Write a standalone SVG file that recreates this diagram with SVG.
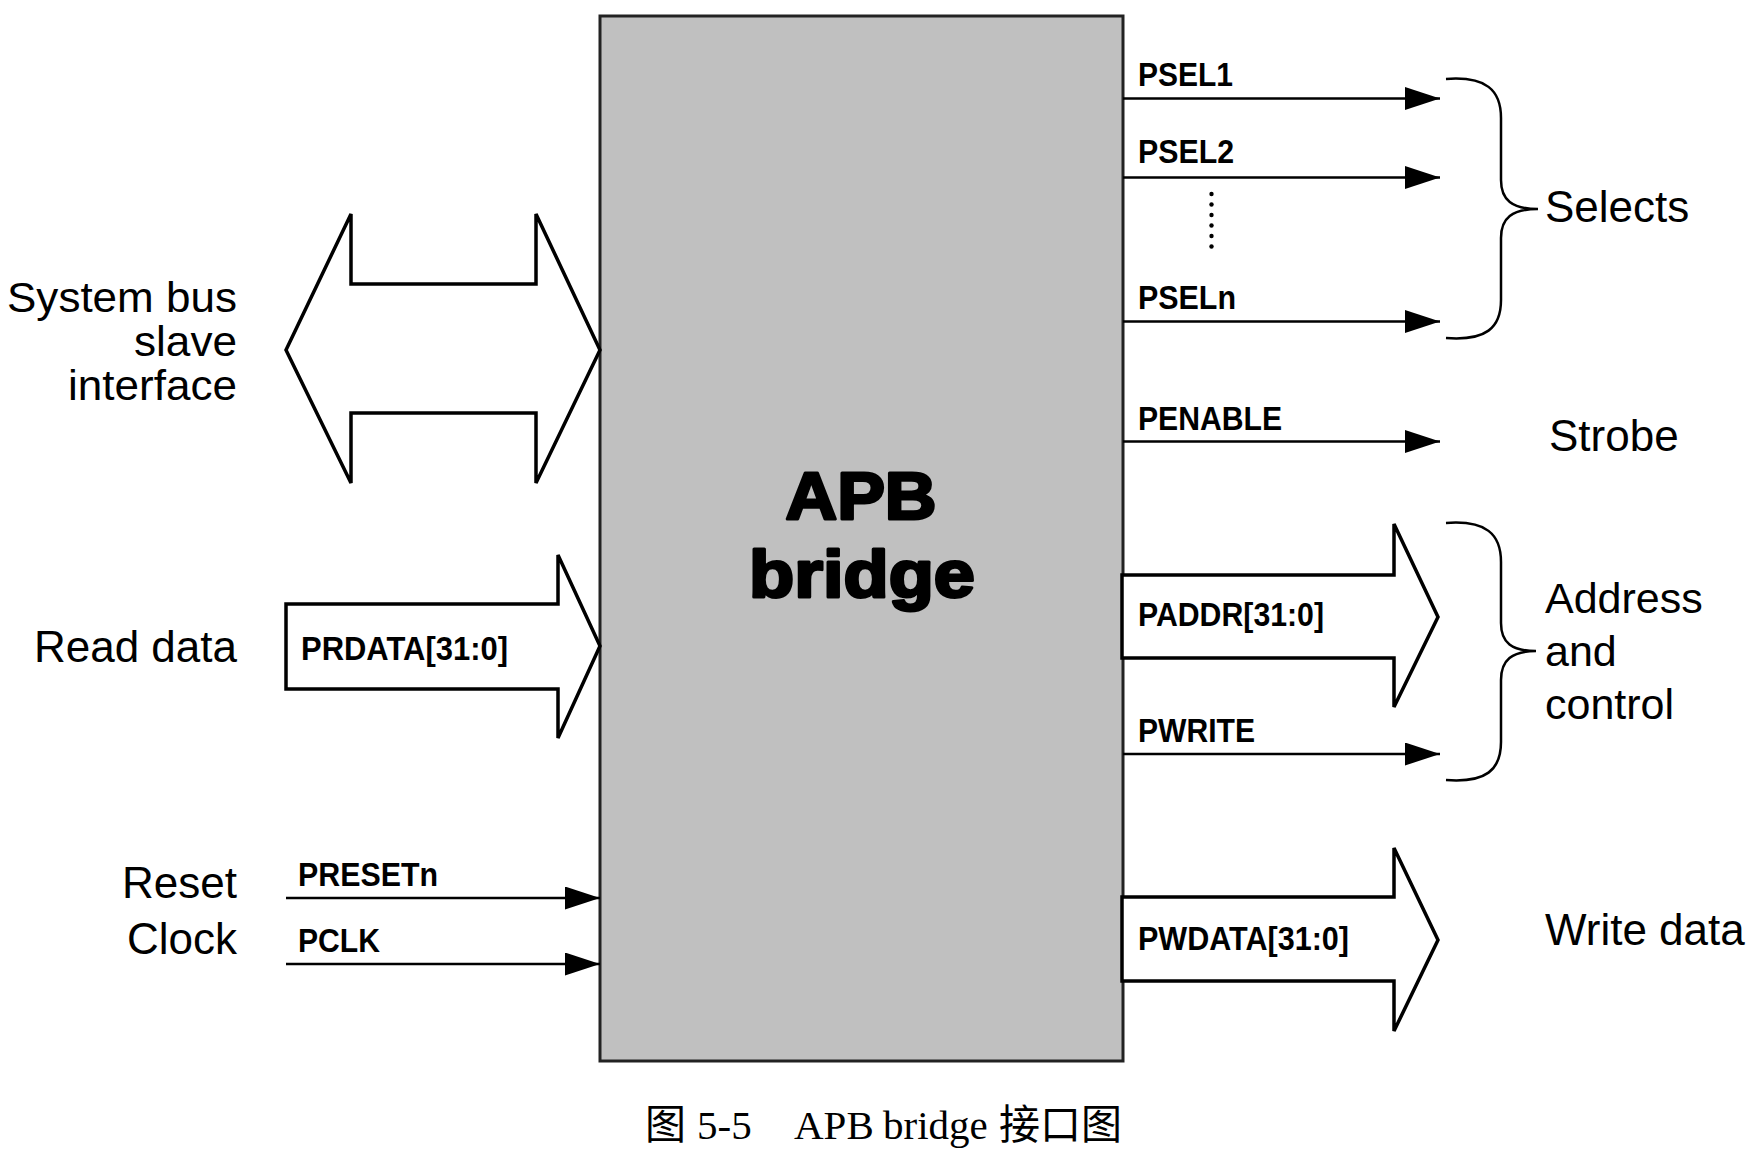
<svg xmlns="http://www.w3.org/2000/svg" width="1761" height="1161" viewBox="0 0 1761 1161">
  <style>
    .lbl { font-family: "Liberation Sans", Arial, sans-serif; font-size: 44px; fill: #000; }
    .lbs { font-family: "Liberation Sans", Arial, sans-serif; font-size: 43px; fill: #000; }
    .sig { font-family: "Liberation Sans", Arial, sans-serif; font-size: 34px; font-weight: bold; fill: #000; }
    .title { font-family: "Liberation Sans", Arial, sans-serif; font-size: 67px; font-weight: bold; fill: #000; stroke: #000; stroke-width: 3; stroke-linejoin: round; }
    .cap { font-family: "Liberation Serif", "Times New Roman", "Noto Sans CJK SC", serif; font-size: 41px; fill: #000; }
    .wire { stroke: #000; stroke-width: 2.5; fill: none; }
    .bus { stroke: #000; stroke-width: 3.5; fill: #fff; stroke-linejoin: miter; }
    .brace { stroke: #000; stroke-width: 2.5; fill: none; }
  </style>
  <defs>
    <marker id="ah" markerUnits="userSpaceOnUse" markerWidth="36" markerHeight="24" refX="35" refY="11.5" orient="auto">
      <path d="M0,0 L35,11.5 L0,23 z" fill="#000"/>
    </marker>
  </defs>

  <g id="apb-bridge">
    <rect x="600" y="16" width="523" height="1045" fill="#c0c0c0" stroke="#222" stroke-width="3"/>
    <text class="title" x="861" y="519" text-anchor="middle" textLength="151" lengthAdjust="spacingAndGlyphs">APB</text>
    <text class="title" x="862" y="597" text-anchor="middle" textLength="226" lengthAdjust="spacingAndGlyphs">bridge</text>
  </g>

  <g id="system-bus">
    <polygon class="bus" points="286,350 351,214 351,284 536,284 536,214 600,350 536,483 536,413 351,413 351,483"/>
    <text class="lbs" x="237" y="312" text-anchor="end" textLength="230" lengthAdjust="spacingAndGlyphs">System bus</text>
    <text class="lbs" x="237" y="356" text-anchor="end" textLength="103" lengthAdjust="spacingAndGlyphs">slave</text>
    <text class="lbs" x="237" y="400" text-anchor="end" textLength="169" lengthAdjust="spacingAndGlyphs">interface</text>
  </g>

  <g id="read-data">
    <polygon class="bus" points="286,604 558,604 558,555 600,646 558,738 558,689 286,689"/>
    <text class="sig" x="301" y="660" textLength="207" lengthAdjust="spacingAndGlyphs">PRDATA[31:0]</text>
    <text class="lbl" x="237" y="662" text-anchor="end">Read data</text>
  </g>

  <g id="paddr">
    <polygon class="bus" points="1122,575 1394,575 1394,524 1438,617 1394,707 1394,658 1122,658"/>
    <text class="sig" x="1138" y="626" textLength="186" lengthAdjust="spacingAndGlyphs">PADDR[31:0]</text>
  </g>

  <g id="pwdata">
    <polygon class="bus" points="1122,897 1394,897 1394,848 1438,940 1394,1031 1394,981 1122,981"/>
    <text class="sig" x="1138" y="950" textLength="211" lengthAdjust="spacingAndGlyphs">PWDATA[31:0]</text>
    <text class="lbl" x="1545" y="945">Write data</text>
  </g>

  <g id="connectors">
    <line class="wire" x1="1123" y1="98.5" x2="1440" y2="98.5" marker-end="url(#ah)"/>
    <line class="wire" x1="1123" y1="177.5" x2="1440" y2="177.5" marker-end="url(#ah)"/>
    <line class="wire" x1="1123" y1="321.5" x2="1440" y2="321.5" marker-end="url(#ah)"/>
    <line class="wire" x1="1123" y1="441.5" x2="1440" y2="441.5" marker-end="url(#ah)"/>
    <line class="wire" x1="1123" y1="754" x2="1440" y2="754" marker-end="url(#ah)"/>
    <line class="wire" x1="286" y1="898" x2="600" y2="898" marker-end="url(#ah)"/>
    <line class="wire" x1="286" y1="964" x2="600" y2="964" marker-end="url(#ah)"/>
  </g>

  <g id="signals">
    <text class="sig" x="1138" y="86" textLength="95" lengthAdjust="spacingAndGlyphs">PSEL1</text>
    <text class="sig" x="1138" y="163" textLength="96" lengthAdjust="spacingAndGlyphs">PSEL2</text>
    <g fill="#000">
      <circle cx="1211.5" cy="194" r="2.2"/>
      <circle cx="1211.5" cy="204.5" r="2.2"/>
      <circle cx="1211.5" cy="215" r="2.2"/>
      <circle cx="1211.5" cy="225.5" r="2.2"/>
      <circle cx="1211.5" cy="236" r="2.2"/>
      <circle cx="1211.5" cy="246.5" r="2.2"/>
    </g>
    <text class="sig" x="1138" y="309" textLength="98" lengthAdjust="spacingAndGlyphs">PSELn</text>
    <text class="sig" x="1138" y="430" textLength="144" lengthAdjust="spacingAndGlyphs">PENABLE</text>
    <text class="sig" x="1138" y="742" textLength="117" lengthAdjust="spacingAndGlyphs">PWRITE</text>
    <text class="sig" x="298" y="886" textLength="140" lengthAdjust="spacingAndGlyphs">PRESETn</text>
    <text class="sig" x="298" y="952" textLength="82" lengthAdjust="spacingAndGlyphs">PCLK</text>
    <text class="lbl" x="237" y="898" text-anchor="end">Reset</text>
    <text class="lbl" x="237" y="954" text-anchor="end">Clock</text>
  </g>

  <g id="selects">
    <path class="brace" d="M1446,79 C1486,76 1501,90 1501,118 L1501,180 C1501,200 1512,209 1538,209 C1512,209 1501,218 1501,238 L1501,300 C1501,328 1486,341 1446,338"/>
    <text class="lbl" x="1545" y="222">Selects</text>
  </g>

  <g id="strobe">
    <text class="lbl" x="1549" y="451">Strobe</text>
  </g>

  <g id="addr-ctrl">
    <path class="brace" d="M1446,523 C1486,520 1501,534 1501,562 L1501,623 C1501,643 1512,651 1536,651 C1512,651 1501,660 1501,680 L1501,742 C1501,770 1486,783 1446,780"/>
    <text class="lbs" x="1545" y="613">Address</text>
    <text class="lbs" x="1545" y="666">and</text>
    <text class="lbs" x="1545" y="719">control</text>
  </g>

  <g id="caption">
    <text class="cap" y="1139"><tspan x="645">图</tspan><tspan x="697">5-5</tspan><tspan x="794">APB</tspan><tspan x="883">bridge</tspan><tspan x="999">接口图</tspan></text>
  </g>
</svg>
